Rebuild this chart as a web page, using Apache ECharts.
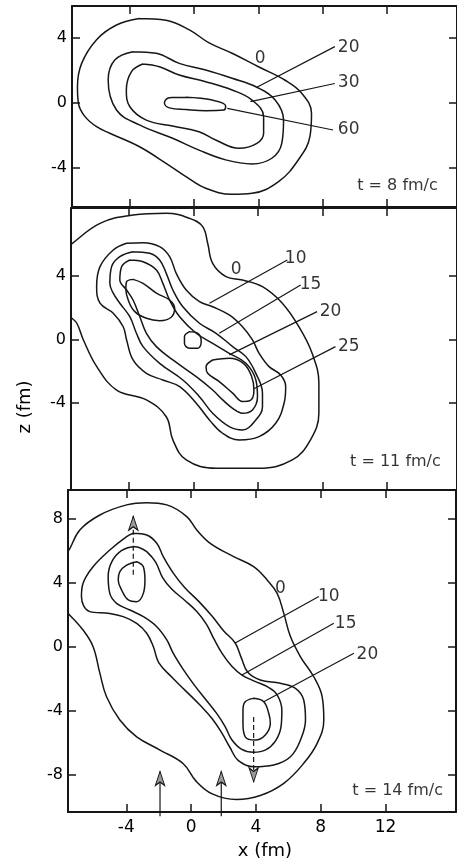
<!DOCTYPE html>
<html>
<head>
<meta charset="utf-8">
<script src="https://cdn.jsdelivr.net/npm/echarts@6/dist/echarts.min.js"></script>
<style>
  html, body { margin: 0; padding: 0; background: #fff; }
  #chart { width: 457px; height: 860px; }
</style>
</head>
<body>
<div id="chart"></div>
<script>
// Shared x (fm) ticks and z (fm) ticks per panel
const xTicks = [-4, 0, 4, 8, 12];
const zTicksSmall = [-4, 0, 4];
const zTicksLarge = [-8, -4, 0, 4, 8];

// ---------- t = 8 fm/c ----------
const p1Level0 = [[-3.4,5.2],[-1.75,5.1],[-0.3,4.5],[0.93,3.7],[2.36,3.06],[4.0,2.23],[5.66,1.4],[6.69,0.6],[7.3,-0.63],[7.2,-2.07],[6.48,-3.5],[5.25,-4.84],[3.6,-5.56],[2.36,-5.62],[0.72,-5.25],[-0.51,-4.53],[-1.75,-3.71],[-3.4,-2.69],[-5.25,-1.86],[-6.07,-1.46],[-6.79,-0.84],[-7.2,-0.02],[-7.26,1.0],[-7.0,2.44],[-6.07,3.9],[-4.83,4.8],[-3.4,5.2]];
const p1Level20 = [[-3.8,3.16],[-2.36,3.06],[-0.93,2.44],[0.72,2.03],[2.36,1.52],[3.9,0.97],[5.04,0.18],[5.56,-1.05],[5.45,-2.48],[4.83,-3.4],[3.6,-3.75],[1.96,-3.5],[0.3,-2.9],[-1.34,-2.17],[-3.4,-1.35],[-4.83,-0.43],[-5.35,1.42],[-4.94,2.65],[-3.8,3.16]];
const p1Level30 = [[-3.2,2.4],[-2.16,2.23],[-0.93,1.72],[0.72,1.31],[2.36,0.8],[3.6,0.18],[4.32,-0.84],[4.32,-1.86],[3.9,-2.48],[2.78,-2.79],[1.34,-2.28],[0.3,-1.77],[-1.34,-1.42],[-2.98,-1.05],[-4.0,-0.23],[-4.22,0.8],[-3.9,1.93],[-3.2,2.4]];
const p1Level60 = [[-0.51,0.35],[1.13,0.18],[1.96,-0.18],[1.85,-0.43],[0.72,-0.47],[-0.51,-0.4],[-1.54,-0.3],[-1.85,0.0],[-1.54,0.33],[-0.51,0.35]];
const p1Labels = [['0',4.1,2.75],['20',9.61,3.4],['30',9.61,1.25],['60',9.61,-1.66]];
const p1Leaders = [[[3.9,0.97],[8.75,3.47]],[[3.5,0.08],[8.75,1.2]],[[2.06,-0.33],[8.64,-1.66]]];
const p1Time = ['t = 8 fm/c', 12.65, -5.1];

// ---------- t = 11 fm/c ----------
const p2Level0 = [[-8.0,5.68],[-7.65,5.94],[-5.8,7.3],[-3.75,7.83],[-1.69,7.94],[-0.25,7.62],[0.57,7.1],[0.88,6.05],[1.19,4.79],[2.02,3.95],[3.04,3.74],[4.28,3.32],[5.51,2.28],[6.54,0.8],[7.36,-0.87],[7.78,-2.75],[7.78,-4.64],[7.26,-6.32],[6.13,-7.58],[4.07,-8.1],[1.4,-8.1],[-0.45,-7.58],[-1.28,-6.32],[-1.69,-4.86],[-2.92,-3.8],[-4.77,-3.18],[-6.0,-1.71],[-6.83,-0.03],[-7.24,1.02],[-7.65,1.43],[-8.0,1.78]];
const p2Level10 = [[-4.15,6.05],[-3.13,6.09],[-2.1,5.84],[-1.48,5.21],[-1.07,4.16],[-0.45,3.11],[0.37,2.38],[1.19,2.06],[2.22,1.54],[3.04,0.8],[3.66,-0.03],[4.07,-0.87],[4.69,-1.71],[5.41,-2.23],[5.72,-2.97],[5.62,-4.01],[5.1,-5.27],[4.07,-6.11],[2.84,-6.32],[1.81,-5.9],[0.99,-5.06],[0.17,-4.01],[-0.86,-2.97],[-1.9,-2.55],[-2.92,-2.13],[-3.75,-1.29],[-4.15,-0.03],[-4.36,0.8],[-4.98,1.65],[-5.8,2.28],[-6.01,3.32],[-5.8,4.58],[-4.98,5.63],[-4.15,6.05]];
const p2Level15 = [[-3.75,5.52],[-2.72,5.42],[-2.1,5.0],[-1.69,4.16],[-1.28,3.11],[-0.66,2.06],[0.37,1.02],[1.4,0.39],[2.43,-0.45],[3.25,-1.08],[3.87,-2.13],[4.28,-3.38],[4.28,-4.23],[3.87,-5.06],[3.04,-5.69],[2.22,-5.48],[1.19,-4.64],[0.37,-3.6],[-0.66,-2.55],[-2.1,-1.5],[-3.13,-0.45],[-3.54,0.39],[-3.95,1.43],[-4.57,2.28],[-4.98,2.91],[-5.19,3.53],[-5.08,4.58],[-4.57,5.21],[-3.75,5.52]];
const p2Level20 = [[-3.95,5.0],[-3.13,4.89],[-2.3,4.37],[-1.9,3.53],[-1.48,2.48],[-0.86,1.43],[0.17,0.39],[1.19,-0.24],[2.22,-0.87],[3.25,-1.5],[3.87,-2.55],[3.97,-3.6],[3.66,-4.43],[3.04,-4.64],[2.43,-4.33],[1.81,-3.8],[1.19,-3.18],[0.17,-2.34],[-1.28,-1.29],[-2.3,-0.45],[-2.92,0.39],[-3.33,1.43],[-3.75,2.48],[-4.15,3.11],[-4.57,3.74],[-4.46,4.58],[-3.95,5.0]];
const p2Level25a = [[-3.75,3.78],[-3.13,3.53],[-2.3,2.91],[-1.48,2.48],[-1.17,1.96],[-1.38,1.4],[-2.1,1.18],[-2.92,1.33],[-3.64,1.75],[-4.05,2.48],[-4.2,3.22],[-4.15,3.64],[-3.75,3.78]];
const p2Level25b = [[-0.25,0.49],[0.27,0.39],[0.48,-0.14],[0.27,-0.55],[-0.25,-0.55],[-0.56,-0.24],[-0.56,0.18],[-0.25,0.49]];
const p2Level25c = [[1.19,-1.29],[2.22,-1.18],[3.1,-1.5],[3.6,-2.3],[3.75,-3.2],[3.5,-3.85],[3.05,-3.9],[2.43,-3.38],[1.6,-2.65],[0.88,-2.13],[0.78,-1.71],[1.19,-1.29]];
const p2Labels = [['0',2.64,4.37],['10',6.34,5.1],['15',7.26,3.43],['20',8.5,1.75],['25',9.63,-0.45]];
const p2Leaders = [[[0.99,2.28],[5.82,5.0]],[[1.6,0.39],[6.65,3.43]],[[2.22,-0.97],[7.67,1.75]],[[3.75,-3.1],[8.81,-0.45]]];
const p2Time = ['t = 11 fm/c', 12.53, -7.7];

// ---------- t = 14 fm/c ----------
const p3Level0 = [[-8.0,5.6],[-7.6,5.94],[-6.87,7.29],[-5.63,8.23],[-3.98,8.86],[-2.74,9.0],[-1.5,8.86],[-0.27,8.13],[0.35,7.29],[1.18,6.46],[2.62,5.63],[3.86,5.0],[4.69,4.17],[5.31,3.33],[5.72,2.08],[6.13,0.63],[6.75,-0.63],[7.57,-1.88],[8.09,-3.13],[8.19,-4.58],[7.78,-6.04],[6.95,-7.29],[5.72,-8.54],[4.27,-9.3],[2.8,-9.55],[1.3,-9.2],[0.3,-8.4],[-0.5,-7.3],[-1.92,-6.46],[-3.36,-5.63],[-4.4,-4.58],[-5.22,-3.13],[-5.63,-1.67],[-6.05,0.0],[-6.67,1.04],[-7.6,2.08],[-8.0,2.4]];
const p3Level10 = [[-3.57,7.09],[-2.74,6.98],[-2.12,6.46],[-1.72,5.63],[-1.1,4.6],[-0.4,3.7],[0.5,2.8],[1.3,1.9],[2.0,1.0],[2.72,0.23],[3.1,-0.7],[3.5,-1.6],[4.27,-2.08],[5.51,-2.29],[6.44,-2.6],[6.95,-3.33],[7.06,-4.58],[6.75,-5.83],[6.13,-6.88],[5.1,-7.39],[3.86,-7.5],[2.9,-7.1],[2.4,-6.3],[1.9,-5.4],[1.3,-4.5],[0.5,-3.6],[-0.4,-2.7],[-1.2,-1.9],[-2.0,-1.0],[-2.33,0.0],[-2.74,0.84],[-3.36,1.46],[-4.19,1.88],[-5.02,2.08],[-6.25,2.19],[-6.77,3.13],[-6.67,3.96],[-6.05,5.0],[-5.02,6.04],[-3.98,6.88],[-3.57,7.09]];
const p3Level15 = [[-2.74,5.94],[-2.2,5.3],[-1.75,4.3],[-1.2,3.6],[-0.4,2.9],[0.35,2.2],[0.95,1.4],[1.4,0.5],[1.9,-0.4],[2.5,-1.2],[3.14,-1.77],[3.9,-2.15],[4.7,-2.5],[5.3,-3.0],[5.6,-4.0],[5.55,-5.0],[5.2,-5.9],[4.6,-6.45],[3.86,-6.6],[3.1,-6.4],[2.5,-5.8],[2.1,-5.0],[1.6,-4.2],[0.9,-3.3],[0.2,-2.4],[-0.5,-1.4],[-1.1,-0.42],[-1.5,0.42],[-2.12,1.25],[-2.95,1.88],[-3.78,2.29],[-4.6,2.71],[-5.02,3.33],[-5.12,4.38],[-4.9,5.3],[-4.3,6.0],[-3.47,6.25],[-2.74,5.94]];
const p3Level20a = [[-3.36,5.31],[-2.95,5.0],[-2.85,4.17],[-2.95,3.33],[-3.36,2.81],[-3.88,2.92],[-4.29,3.54],[-4.5,4.17],[-4.4,4.69],[-3.98,5.1],[-3.36,5.31]];
const p3Level20b = [[3.86,-3.23],[4.48,-3.44],[4.79,-4.16],[4.89,-4.79],[4.58,-5.52],[3.96,-5.83],[3.34,-5.63],[3.2,-4.79],[3.2,-3.96],[3.34,-3.44],[3.86,-3.23]];
const p3Labels = [['0',5.51,3.65],['10',8.5,3.13],['15',9.54,1.46],['20',10.88,-0.52]];
const p3Leaders = [[[2.72,0.23],[7.88,3.13]],[[3.14,-1.77],[8.81,1.46]],[[4.48,-3.44],[10.05,-0.41]]];
const p3Time = ['t = 14 fm/c', 12.75, -9.02];
// arrows: [x, z of tail, z of head]
const p3DashedArrows = [[-3.57, 4.5, 8.15], [3.86, -4.4, -8.45]];
const p3SolidArrows = [[-1.92, -10.6, -7.8], [1.86, -10.6, -7.8]];

// ---------- layout ----------
const INK = '#161616';
const FONT = 'DejaVu Sans';
const X_MIN = -7.6, X_MAX = 16.35;
const panels = [
  { left: 72, top: 6,   height: 201, zMin: -6.4,  zMax: 5.97, zTicks: zTicksSmall, xLabels: false },
  { left: 71, top: 208, height: 282, zMin: -9.47, zMax: 8.27, zTicks: zTicksSmall, xLabels: false },
  { left: 68, top: 490, height: 322, zMin: -10.33, zMax: 9.79, zTicks: zTicksLarge, xLabels: true }
];

const grid = [], xAxis = [], yAxis = [], series = [];
const frameLine = { show: true, onZero: false, lineStyle: { color: INK, width: 2 } };
const tick = vals => ({ show: true, inside: true, length: 8, customValues: vals, lineStyle: { color: INK, width: 1.5 } });

panels.forEach((p, i) => {
  grid.push({ left: p.left, top: p.top, width: 388, height: p.height, containLabel: false });
  ['bottom', 'top'].forEach(pos => xAxis.push({
    type: 'value', gridIndex: i, position: pos, min: X_MIN, max: X_MAX,
    axisLine: frameLine, axisTick: tick(xTicks), splitLine: { show: false },
    axisLabel: (pos === 'bottom' && p.xLabels)
      ? { show: true, customValues: xTicks, margin: 7, color: '#000', fontFamily: FONT, fontSize: 17 }
      : { show: false }
  }));
  ['left', 'right'].forEach(pos => yAxis.push({
    type: 'value', gridIndex: i, position: pos, min: p.zMin, max: p.zMax,
    axisLine: frameLine, axisTick: tick(p.zTicks), splitLine: { show: false },
    axisLabel: pos === 'left'
      ? { show: true, customValues: p.zTicks, margin: 5, color: '#000', fontFamily: FONT, fontSize: 16 }
      : { show: false }
  }));
});

function contour(panel, pts) {
  return {
    type: 'line', xAxisIndex: 2 * panel, yAxisIndex: 2 * panel, data: pts,
    smooth: 0.4, showSymbol: false, symbol: 'none', silent: true, clip: true,
    lineStyle: { color: INK, width: 1.5, cap: 'round', join: 'round' }, z: 3
  };
}
function leader(panel, seg) {
  return {
    type: 'line', xAxisIndex: 2 * panel, yAxisIndex: 2 * panel, data: seg,
    showSymbol: false, symbol: 'none', silent: true,
    lineStyle: { color: INK, width: 1.2 }, z: 3
  };
}
function labels(panel, items, size) {
  return {
    type: 'scatter', xAxisIndex: 2 * panel, yAxisIndex: 2 * panel, silent: true,
    symbolSize: 1, itemStyle: { color: 'rgba(0,0,0,0)' },
    data: items.map(d => ({ name: d[0], value: [d[1], d[2]] })),
    label: { show: true, position: 'inside', formatter: '{b}', color: '#000', fontFamily: FONT, fontSize: size },
    z: 4
  };
}
function arrow(panel, a, dashed) {
  const up = a[2] > a[1];
  return {
    type: 'line', xAxisIndex: 2 * panel, yAxisIndex: 2 * panel, silent: true, clip: false,
    showSymbol: true, symbol: 'none',
    data: [
      { value: [a[0], a[1]], symbol: 'none' },
      { value: [a[0], a[2]], symbol: 'arrow', symbolSize: [7, 14], symbolRotate: up ? 0 : 180,
        itemStyle: { color: '#9a9a9a', borderColor: INK, borderWidth: 1.1 } }
    ],
    lineStyle: { color: INK, width: 1.2, type: dashed ? [5, 3] : 'solid' }, z: 5
  };
}

[p1Level0, p1Level20, p1Level30, p1Level60].forEach(c => series.push(contour(0, c)));
p1Leaders.forEach(s => series.push(leader(0, s)));
series.push(labels(0, p1Labels, 17));
series.push(labels(0, [p1Time], 16));

[p2Level0, p2Level10, p2Level15, p2Level20, p2Level25a, p2Level25b, p2Level25c].forEach(c => series.push(contour(1, c)));
p2Leaders.forEach(s => series.push(leader(1, s)));
series.push(labels(1, p2Labels, 17));
series.push(labels(1, [p2Time], 16));

[p3Level0, p3Level10, p3Level15, p3Level20a, p3Level20b].forEach(c => series.push(contour(2, c)));
p3Leaders.forEach(s => series.push(leader(2, s)));
series.push(labels(2, p3Labels, 17));
series.push(labels(2, [p3Time], 16));
p3DashedArrows.forEach(a => series.push(arrow(2, a, true)));
p3SolidArrows.forEach(a => series.push(arrow(2, a, false)));

const chart = echarts.init(document.getElementById('chart'), null, { renderer: 'canvas' });
chart.setOption({
  animation: false,
  backgroundColor: '#ffffff',
  grid, xAxis, yAxis, series,
  graphic: [
    { type: 'text', x: 265, y: 851, style: { text: 'x (fm)', fill: '#000', font: '18px "DejaVu Sans"', align: 'center', verticalAlign: 'middle' } },
    { type: 'text', x: 25, y: 407, rotation: Math.PI / 2, style: { text: 'z (fm)', fill: '#000', font: '18px "DejaVu Sans"', align: 'center', verticalAlign: 'middle' } }
  ]
});
</script>
</body>
</html>
